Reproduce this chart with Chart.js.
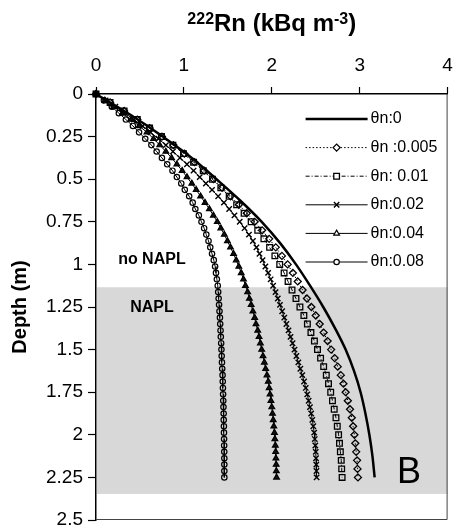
<!DOCTYPE html>
<html>
<head>
<meta charset="utf-8">
<script src="https://cdn.jsdelivr.net/npm/chart.js@4.4.0/dist/chart.umd.min.js"></script>
<style>
  html, body { margin: 0; padding: 0; background: #fff; }
</style>
</head>
<body>
<canvas id="grafico" width="453" height="531"></canvas>
<script>
const FONT = "'Liberation Sans', Arial, sans-serif";

// depth grids (m)
const depthLine = [0, 0.125, 0.25, 0.375, 0.5, 0.625, 0.75, 0.875, 1, 1.125, 1.25, 1.375, 1.5, 1.625, 1.75, 1.875, 2, 2.125, 2.25];
const depthCoarse = [0, 0.05, 0.1, 0.15, 0.2, 0.25, 0.3, 0.35, 0.4, 0.45, 0.5, 0.55, 0.6, 0.65, 0.7, 0.75, 0.8, 0.85, 0.9, 0.95,
  1, 1.05, 1.1, 1.15, 1.2, 1.25, 1.3, 1.35, 1.4, 1.45, 1.5, 1.55, 1.6, 1.65, 1.7, 1.75, 1.8, 1.85, 1.9, 1.95,
  2, 2.05, 2.1, 2.15, 2.2, 2.25];
const depthFine = [0, 0.0375, 0.075, 0.1125, 0.15, 0.1875, 0.225, 0.2625, 0.3, 0.3375, 0.375, 0.4125, 0.45, 0.4875, 0.525,
  0.5625, 0.6, 0.6375, 0.675, 0.7125, 0.75, 0.7875, 0.825, 0.8625, 0.9, 0.9375, 0.975, 1.0125, 1.05, 1.0875,
  1.125, 1.1625, 1.2, 1.2375, 1.275, 1.3125, 1.35, 1.3875, 1.425, 1.4625, 1.5, 1.5375, 1.575, 1.6125, 1.65,
  1.6875, 1.725, 1.7625, 1.8, 1.8375, 1.875, 1.9125, 1.95, 1.9875, 2.025, 2.0625, 2.1, 2.1375, 2.175, 2.2125, 2.25];

// 222Rn (kBq m-3) per NAPL content
const rn000 = [0, 0.40, 0.76, 1.09, 1.37, 1.64, 1.885, 2.095, 2.275, 2.435, 2.585, 2.72, 2.84, 2.935, 3.01, 3.065, 3.11, 3.145, 3.17];
const rn005 = [0, 0.16, 0.32, 0.47, 0.61, 0.75, 0.88, 1.005, 1.12, 1.23, 1.335, 1.435, 1.53, 1.625, 1.715, 1.805, 1.89, 1.97, 2.045, 2.115,
  2.18, 2.24, 2.295, 2.35, 2.40, 2.45, 2.50, 2.545, 2.59, 2.635, 2.675, 2.715, 2.75, 2.785, 2.815, 2.84, 2.865, 2.89, 2.91, 2.925,
  2.94, 2.95, 2.96, 2.97, 2.975, 2.98];
const rn010 = [0, 0.16, 0.32, 0.47, 0.61, 0.745, 0.875, 0.995, 1.11, 1.22, 1.325, 1.42, 1.515, 1.60, 1.685, 1.765, 1.84, 1.91, 1.975, 2.035,
  2.09, 2.14, 2.185, 2.23, 2.275, 2.32, 2.365, 2.405, 2.445, 2.485, 2.52, 2.555, 2.59, 2.62, 2.645, 2.67, 2.69, 2.71, 2.73, 2.745,
  2.76, 2.77, 2.78, 2.79, 2.795, 2.80];
const rn020 = [0, 0.11, 0.22, 0.33, 0.43, 0.53, 0.62, 0.71, 0.795, 0.875, 0.955, 1.035, 1.11, 1.18, 1.25, 1.32, 1.39, 1.455, 1.515, 1.575,
  1.635, 1.69, 1.74, 1.785, 1.825, 1.86, 1.895, 1.927, 1.958, 1.987, 2.015, 2.042, 2.068, 2.093, 2.118, 2.142, 2.166, 2.19, 2.213, 2.236,
  2.258, 2.28, 2.302, 2.325, 2.347, 2.367, 2.386, 2.403, 2.419, 2.434, 2.448, 2.461, 2.472, 2.482, 2.489, 2.495, 2.50, 2.503, 2.506, 2.508, 2.51];
const rn040 = [0, 0.10, 0.20, 0.30, 0.40, 0.49, 0.58, 0.655, 0.725, 0.795, 0.86, 0.92, 0.98, 1.035, 1.09, 1.14, 1.19, 1.24, 1.29, 1.335,
  1.38, 1.42, 1.46, 1.495, 1.53, 1.565, 1.595, 1.625, 1.652, 1.678, 1.70, 1.725, 1.745, 1.765, 1.785, 1.805, 1.82, 1.84, 1.855, 1.87,
  1.885, 1.90, 1.915, 1.93, 1.945, 1.96, 1.97, 1.98, 1.99, 2.00, 2.008, 2.016, 2.023, 2.03, 2.035, 2.04, 2.044, 2.047, 2.05, 2.052, 2.054];
const rn080 = [0, 0.09, 0.18, 0.26, 0.34, 0.42, 0.49, 0.56, 0.63, 0.69, 0.75, 0.81, 0.87, 0.92, 0.97, 1.01, 1.06, 1.10, 1.13, 1.17,
  1.20, 1.23, 1.255, 1.28, 1.30, 1.32, 1.34, 1.355, 1.365, 1.375, 1.385, 1.39, 1.395, 1.40, 1.405, 1.41, 1.413, 1.417, 1.42, 1.424,
  1.427, 1.43, 1.433, 1.436, 1.44, 1.442, 1.444, 1.446, 1.448, 1.45, 1.452, 1.453, 1.455, 1.456, 1.457, 1.458, 1.459, 1.46, 1.46, 1.46, 1.46];

const seriesLabels = ["θn:0", "θn :0.005", "θn: 0.01", "θn:0.02", "θn:0.04", "θn:0.08"];
const xTicks = [0, 1, 2, 3, 4];
const yTicks = [0, 0.25, 0.5, 0.75, 1, 1.25, 1.5, 1.75, 2, 2.25, 2.5];

// NAPL zone (m) and label anchors (data units)
const naplTop = 1.134;
const naplBottom = 2.347;
const zoneLabels = [
  { text: "no NAPL", x: 0.636, y: 0.974 },
  { text: "NAPL", x: 0.636, y: 1.253 }
];
const panelLetter = { text: "B", x: 3.56, y: 2.283 };

function pontos(depths, vals) {
  return depths.map((d, i) => ({ x: vals[i], y: d }));
}

const decoracao = {
  id: "decoracao",
  beforeDatasetsDraw(chart) {
    const { ctx, chartArea: a, scales: { y } } = chart;
    ctx.save();
    const t = y.getPixelForValue(naplTop);
    const b = y.getPixelForValue(naplBottom);
    ctx.fillStyle = "#d8d8d8";
    ctx.fillRect(a.left + 1, t, a.right - a.left - 1, b - t);
    ctx.strokeStyle = "#444";
    ctx.lineWidth = 1;
    ctx.beginPath();
    ctx.moveTo(a.right - 0.5, a.top);
    ctx.lineTo(a.right - 0.5, a.bottom - 0.5);
    ctx.lineTo(a.left, a.bottom - 0.5);
    ctx.stroke();
    ctx.restore();
  },
  afterDraw(chart) {
    const { ctx, chartArea: a, scales: { x, y } } = chart;
    ctx.save();
    ctx.fillStyle = "#000";

    // zone labels
    ctx.font = "bold 16px " + FONT;
    ctx.textAlign = "center";
    ctx.textBaseline = "middle";
    zoneLabels.forEach(l => ctx.fillText(l.text, x.getPixelForValue(l.x), y.getPixelForValue(l.y)));

    ctx.font = "36px " + FONT;
    ctx.textBaseline = "alphabetic";
    ctx.fillText(panelLetter.text, x.getPixelForValue(panelLetter.x), y.getPixelForValue(panelLetter.y));

    // axis title with superscripts
    const parts = [
      { t: "222", f: "bold 16px " + FONT, dy: -7 },
      { t: "Rn (kBq m", f: "bold 24px " + FONT, dy: 0 },
      { t: "-3", f: "bold 16px " + FONT, dy: -7 },
      { t: ")", f: "bold 24px " + FONT, dy: 0 }
    ];
    let total = 0;
    parts.forEach(p => { ctx.font = p.f; p.w = ctx.measureText(p.t).width; total += p.w; });
    let cx = (a.left + a.right) / 2 - total / 2;
    ctx.textAlign = "left";
    parts.forEach(p => { ctx.font = p.f; ctx.fillText(p.t, cx, 31 + p.dy); cx += p.w; });

    // legend
    ctx.font = "16px " + FONT;
    ctx.textBaseline = "middle";
    chart.data.datasets.forEach((ds, i) => {
      const yy = a.top + 25 + i * 28.6;
      const x0 = a.right - 142, x1 = a.right - 80;
      ctx.strokeStyle = "#000";
      ctx.lineWidth = ds.borderWidth;
      ctx.setLineDash(ds.borderDash || []);
      ctx.beginPath();
      ctx.moveTo(x0, yy);
      ctx.lineTo(x1, yy);
      ctx.stroke();
      ctx.setLineDash([]);
      if (ds.pointRadius > 0) {
        ctx.fillStyle = "#fff";
        ctx.strokeStyle = "#000";
        ctx.lineWidth = ds.pointBorderWidth;
        Chart.helpers.drawPoint(ctx, {
          pointStyle: ds.pointStyle, radius: ds.pointRadius,
          borderWidth: ds.pointBorderWidth, rotation: 0
        }, (x0 + x1) / 2, yy);
      }
      ctx.fillStyle = "#000";
      ctx.fillText(ds.label, x1 + 3, yy);
    });
    ctx.restore();
  }
};

const comum = {
  borderColor: "#000",
  pointBorderColor: "#000",
  pointBackgroundColor: "rgba(0,0,0,0)",
  showLine: true,
  clip: 8
};

new Chart(document.getElementById("grafico"), {
  type: "scatter",
  data: {
    datasets: [
      { ...comum, label: seriesLabels[0], data: pontos(depthLine, rn000), borderWidth: 2.5, pointRadius: 0,
        cubicInterpolationMode: "monotone" },
      { ...comum, label: seriesLabels[1], data: pontos(depthCoarse, rn005), borderWidth: 1, borderDash: [1.5, 2],
        pointStyle: "rectRot", pointRadius: 3.5, pointBorderWidth: 1.3 },
      { ...comum, label: seriesLabels[2], data: pontos(depthCoarse, rn010), borderWidth: 1, borderDash: [4, 2, 1, 2],
        pointStyle: "rect", pointRadius: 4, pointBorderWidth: 1.3 },
      { ...comum, label: seriesLabels[3], data: pontos(depthFine, rn020), borderWidth: 1,
        pointStyle: "crossRot", pointRadius: 3.8, pointBorderWidth: 1.4 },
      { ...comum, label: seriesLabels[4], data: pontos(depthFine, rn040), borderWidth: 1,
        pointStyle: "triangle", pointRadius: 3.3, pointBorderWidth: 1.2, pointBackgroundColor: "#111" },
      { ...comum, label: seriesLabels[5], data: pontos(depthFine, rn080), borderWidth: 1,
        pointStyle: "circle", pointRadius: 2.7, pointBorderWidth: 1.2 }
    ]
  },
  options: {
    responsive: false,
    animation: false,
    layout: { padding: { top: 0, left: 0, right: 4, bottom: 11 } },
    plugins: { legend: { display: false }, tooltip: { enabled: false } },
    scales: {
      x: {
        type: "linear",
        position: "top",
        min: 0,
        max: 4,
        afterBuildTicks: s => { s.ticks = xTicks.map(v => ({ value: v })); },
        afterFit: s => { s.height = 94; s.paddingLeft = 0; s.paddingRight = 0; },
        ticks: { font: { family: FONT, size: 19 }, color: "#000", padding: 10, maxRotation: 0, autoSkip: false, callback: v => String(v) },
        grid: { drawOnChartArea: false, drawTicks: true, tickLength: 7, tickColor: "#000", tickWidth: 1.2 },
        border: { display: true, color: "#000", width: 1.5 }
      },
      y: {
        type: "linear",
        reverse: true,
        min: 0,
        max: 2.5,
        afterBuildTicks: s => { s.ticks = yTicks.map(v => ({ value: v })); },
        afterFit: s => { s.width = 96; s.paddingTop = 0; s.paddingBottom = 0; },
        ticks: { font: { family: FONT, size: 19 }, color: "#000", padding: 5, autoSkip: false, callback: v => String(v) },
        grid: { drawOnChartArea: false, drawTicks: true, tickLength: 8, tickColor: "#000", tickWidth: 1.2 },
        border: { display: true, color: "#000", width: 1.5 },
        title: { display: true, text: "Depth (m)", color: "#000", font: { family: FONT, size: 20, weight: "bold" }, padding: { top: 8 } }
      }
    }
  },
  plugins: [decoracao]
});
</script>
</body>
</html>
